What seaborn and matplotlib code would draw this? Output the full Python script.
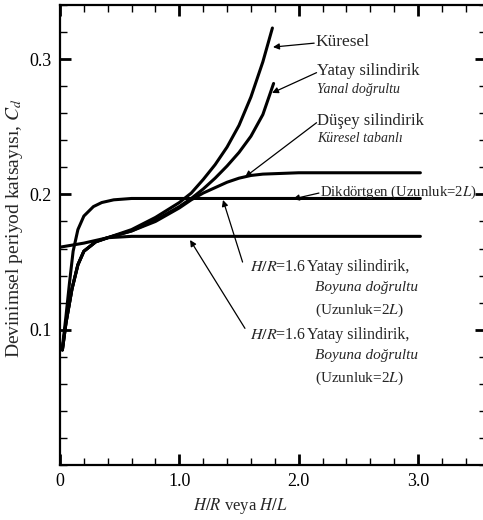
import matplotlib
matplotlib.use("Agg")
import matplotlib.pyplot as plt
import seaborn as sns
from matplotlib.ticker import FixedLocator, MultipleLocator

sns.set_style("ticks")
plt.rcParams['font.family'] = ['Liberation Serif', 'DejaVu Serif']
plt.rcParams['mathtext.fontset'] = 'stix'

# Curve data
kuresel_x = [0.02, 0.05, 0.1, 0.15, 0.2, 0.3, 0.4, 0.6, 0.8, 1.0, 1.1, 1.2, 1.3, 1.4, 1.5, 1.6, 1.7, 1.78]
kuresel_y = [0.085, 0.105, 0.13, 0.148, 0.158, 0.165, 0.168, 0.174, 0.183, 0.194, 0.201, 0.211, 0.222, 0.235, 0.251, 0.272, 0.298, 0.323]

yanal_x = [0.02, 0.05, 0.1, 0.15, 0.2, 0.3, 0.4, 0.6, 0.8, 1.0, 1.1, 1.2, 1.3, 1.4, 1.5, 1.6, 1.7, 1.79]
yanal_y = [0.085, 0.105, 0.13, 0.148, 0.158, 0.165, 0.168, 0.173, 0.181, 0.191, 0.197, 0.204, 0.212, 0.221, 0.231, 0.243, 0.259, 0.282]

dusey_x = [0.0, 0.2, 0.4, 0.6, 0.8, 1.0, 1.1, 1.2, 1.3, 1.4, 1.5, 1.6, 1.7, 2.0, 2.5, 3.02]
dusey_y = [0.161, 0.164, 0.168, 0.173, 0.180, 0.190, 0.196, 0.201, 0.205, 0.209, 0.212, 0.214, 0.215, 0.216, 0.216, 0.216]

dikdortgen_x = [0.02, 0.05, 0.08, 0.11, 0.15, 0.2, 0.28, 0.35, 0.45, 0.6, 1.0, 2.0, 3.02]
dikdortgen_y = [0.087, 0.110, 0.135, 0.158, 0.174, 0.184, 0.191, 0.194, 0.196, 0.197, 0.197, 0.197, 0.197]

boyuna_x = [0.02, 0.05, 0.1, 0.15, 0.2, 0.3, 0.4, 0.6, 1.0, 2.0, 3.02]
boyuna_y = [0.085, 0.105, 0.13, 0.148, 0.158, 0.165, 0.168, 0.169, 0.169, 0.169, 0.169]

curves = [(kuresel_x, kuresel_y), (yanal_x, yanal_y), (dusey_x, dusey_y),
          (dikdortgen_x, dikdortgen_y), (boyuna_x, boyuna_y)]

fig = plt.figure(figsize=(4.83, 5.2), dpi=100)
ax = fig.add_axes([60 / 483, 55 / 520, 426 / 483, 460 / 520])

for cx, cy in curves:
    sns.lineplot(x=cx, y=cy, ax=ax, color="black", linewidth=2.2, sort=False, estimator=None)

ax.set_xlim(0, 3.57)
ax.set_ylim(0, 0.34)

ax.xaxis.set_major_locator(FixedLocator([0, 1, 2, 3]))
ax.set_xticklabels(["0", "1.0", "2.0", "3.0"])
ax.xaxis.set_minor_locator(MultipleLocator(0.2))
ax.yaxis.set_major_locator(FixedLocator([0.1, 0.2, 0.3]))
ax.set_yticklabels(["0.1", "0.2", "0.3"])
ax.yaxis.set_minor_locator(MultipleLocator(0.02))

ax.tick_params(which="both", direction="in", top=True, right=True, labelsize=13, colors="black")
ax.tick_params(which="major", length=8, width=2, pad=6)
ax.tick_params(which="minor", length=5, width=1)
for s in ax.spines.values():
    s.set_linewidth(1.6)
    s.set_color("black")

ax.set_ylabel("Devinimsel periyod katsayısı, $C_d$", fontsize=14)
ax.yaxis.set_label_coords(-0.082, 0.515)
ax.set_xlabel("$H/R$ veya $H/L$", fontsize=12)
ax.xaxis.set_label_coords(180 / 426, -0.068)

# annotations
fs = 12
ax.text(2.137, 0.3125, "Küresel", fontsize=12.5, va="center")
ax.text(2.154, 0.2915, "Yatay silindirik", fontsize=fs, va="center")
ax.text(2.154, 0.2775, "Yanal doğrultu", fontsize=10, style="italic", va="center")
ax.text(2.154, 0.2545, "Düşey silindirik", fontsize=fs, va="center")
ax.text(2.154, 0.2415, "Küresel tabanlı", fontsize=10, style="italic", va="center")
ax.text(2.18, 0.2015, "Dikdörtgen (Uzunluk=2$L$)", fontsize=10.6, va="center")

for yt in (0.1464, 0.0961):
    ax.text(1.593, yt, "$H/R$=1.6", fontsize=11.5, va="center")
    ax.text(2.07, yt, "Yatay silindirik,", fontsize=11.5, va="center")
    ax.text(2.137, yt - 0.0155, "Boyuna doğrultu", fontsize=11, style="italic", va="center")
    ax.text(2.137, yt - 0.0318, "(Uzunluk=2$L$)", fontsize=11, va="center")

arrows = [
    ((1.785, 0.3089), (2.13, 0.3118)),
    ((1.777, 0.275), (2.15, 0.290)),
    ((1.551, 0.2129), (2.15, 0.2530)),
    ((1.953, 0.1966), (2.17, 0.2010)),
    ((1.366, 0.1959), (1.53, 0.1500)),
    ((1.09, 0.1663), (1.55, 0.1010)),
]
for tip, start in arrows:
    ax.annotate("", xy=tip, xytext=start,
                arrowprops=dict(arrowstyle="-|>", color="black", lw=0.9,
                                mutation_scale=9, shrinkA=0, shrinkB=0))

fig.savefig("out.png", dpi=100)
